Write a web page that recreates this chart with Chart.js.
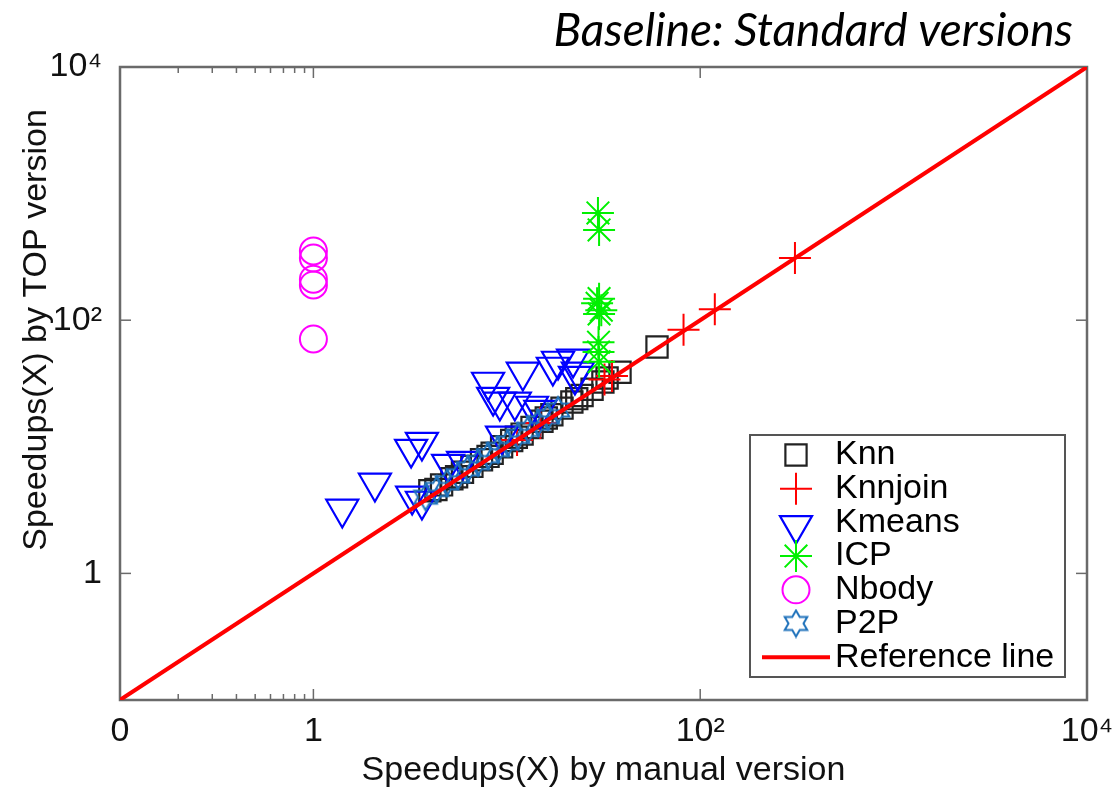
<!DOCTYPE html>
<html>
<head>
<meta charset="utf-8">
<script src="https://cdn.jsdelivr.net/npm/chart.js@4/dist/chart.umd.min.js"></script>
<style>
  html, body { margin: 0; padding: 0; background: #fff; }
  #wrap { width: 1112px; height: 791px; position: relative; }
</style>
</head>
<body>
<div id="wrap"><canvas id="chart"></canvas></div>
<script>
// =====================
// Data
// =====================
const knnX = [4.0, 4.3, 4.6, 5.2, 5.5, 5.9, 6.6, 7.4, 8.0, 8.4, 9.4, 10.6, 11.2, 12.0, 13.5, 15.2, 16.0, 17.1, 19.3, 21.7, 23.0, 24.5, 27.6, 31.4, 33.0, 38.5, 59.8];
const knnY = [4.5, 4.6, 5.0, 5.6, 5.8, 6.3, 7.0, 7.9, 8.4, 8.9, 10.0, 11.2, 11.9, 12.6, 14.2, 15.9, 16.9, 17.9, 20.2, 22.6, 24.0, 25.4, 28.5, 32.5, 35.0, 38.8, 61.4];

const knnjoinX = [11.3, 14.9, 32, 35, 82, 119, 309];
const knnjoinY = [11.3, 15.4, 34, 36.2, 84, 122, 310];

const kmeansX = [1.41, 2.08, 3.24, 3.64, 3.20, 3.64, 4.97, 5.94, 8.0, 12.1, 17.3, 18.4, 22.0, 22.5, 8.5, 9.2, 11.0, 13.5, 9.45, 23.3, 14.9];
const kmeansY = [3.23, 5.18, 4.09, 3.73, 9.6, 10.9, 7.3, 7.7, 32.5, 39, 42.7, 47.6, 49.4, 36.2, 24.7, 22.6, 22.6, 21, 12.2, 39, 19.5];

const icpX = [29.6, 30.0, 30.0, 29.3, 30.8, 30.0, 29.8, 29.8, 30.0];
const icpY = [703, 516, 148, 136, 120, 112, 67, 56, 47];

const nbodyX = [1, 1, 1, 1, 1];
const nbodyY = [352, 310, 211, 190, 71];

const p2pX = [3.8, 4.35, 4.9, 5.6, 6.3, 7.1, 8.0, 9.0, 10.1, 11.4, 12.9, 14.5, 16.3, 18.4];
const p2pY = [4.0, 4.6, 5.2, 5.9, 6.7, 7.5, 8.5, 9.5, 10.7, 12.1, 13.7, 15.4, 17.3, 19.5];

const refX = [0.1, 10000];
const refY = [0.1, 10000];

const xTickValues = [0.1, 1, 100, 10000];
const xTickLabels = ['0', '1', '10²', '10⁴'];
const xMinorTicks = [0.2, 0.3, 0.4, 0.5, 0.6, 0.7, 0.8, 0.9];
const yTickValues = [0.1, 1, 100, 10000];
const yTickLabels = ['', '1', '10²', '10⁴'];

const titleText = 'Baseline: Standard versions';
const yTitleText = 'Speedups(X) by TOP version';
const FONT = "'Liberation Sans', Arial, Helvetica, sans-serif";

function pts(xs, ys){ return xs.map((x, i) => ({x: x, y: ys[i]})); }

// six-pointed star outline (MATLAB 'hexagram')
function makeHexagram(r, color, lw){
  const s = Math.ceil(2 * r + lw + 2);
  const c = document.createElement('canvas');
  c.width = s; c.height = s;
  const g = c.getContext('2d');
  g.strokeStyle = color; g.lineWidth = lw; g.lineJoin = 'miter';
  g.beginPath();
  for (let i = 0; i < 12; i++) {
    const a = -Math.PI / 2 + i * Math.PI / 6;
    const rr = i % 2 === 0 ? r : r / Math.sqrt(3);
    g.lineTo(s / 2 + rr * Math.cos(a), s / 2 + rr * Math.sin(a));
  }
  g.closePath(); g.stroke();
  return c;
}

function scatterSet(label, xs, ys, style, color, radius, width, order, rotation){
  return {
    label: label, data: pts(xs, ys), showLine: false, order: order,
    pointStyle: style, pointRadius: radius, pointHoverRadius: radius,
    pointBorderColor: color, pointBackgroundColor: 'rgba(0,0,0,0)',
    pointBorderWidth: width, pointRotation: rotation || 0
  };
}

const datasets = [
  scatterSet('Knn', knnX, knnY, 'rect', '#222222', 15, 2.2, 6),
  scatterSet('Knnjoin', knnjoinX, knnjoinY, 'cross', '#ff0000', 16, 2, 5),
  scatterSet('Kmeans', kmeansX, kmeansY, 'triangle', '#0000ff', 18.5, 2.2, 4, 180),
  scatterSet('ICP', icpX, icpY, 'star', '#00f000', 16, 2, 3),
  scatterSet('Nbody', nbodyX, nbodyY, 'circle', '#ff00ff', 13.5, 2, 2),
  scatterSet('P2P', p2pX, p2pY, makeHexagram(13, '#1f72bb', 2), '#1f72bb', 13, 2, 1),
  {
    type: 'line', label: 'Reference line', data: pts(refX, refY), order: 0,
    borderColor: '#ff0000', borderWidth: 4, pointRadius: 0, showLine: true, fill: false
  }
];

// =====================
// Plugins: frame + inward ticks, boxed legend, titles
// =====================
const framePlugin = {
  id: 'frame',
  beforeDatasetsDraw(chart){
    const {ctx, chartArea: a, scales: {x, y}} = chart;
    ctx.save();
    ctx.strokeStyle = '#6a6a6a';
    ctx.lineWidth = 1.5;
    const seg = (x1, y1, x2, y2) => { ctx.beginPath(); ctx.moveTo(x1, y1); ctx.lineTo(x2, y2); ctx.stroke(); };
    xTickValues.forEach(v => {
      const px = x.getPixelForValue(v);
      seg(px, a.bottom, px, a.bottom - 11); seg(px, a.top, px, a.top + 11);
    });
    xMinorTicks.forEach(v => {
      const px = x.getPixelForValue(v);
      seg(px, a.bottom, px, a.bottom - 6); seg(px, a.top, px, a.top + 6);
    });
    yTickValues.forEach(v => {
      const py = y.getPixelForValue(v);
      seg(a.left, py, a.left + 11, py); seg(a.right, py, a.right - 11, py);
    });
    ctx.lineWidth = 2.5;
    ctx.strokeRect(a.left, a.top, a.right - a.left, a.bottom - a.top);
    ctx.restore();
  }
};

const legendPlugin = {
  id: 'boxLegend',
  afterDraw(chart){
    const {ctx, chartArea: a} = chart;
    const bw = 315, bh = 242;
    const bx = a.right - 22 - bw, by = a.bottom - 23 - bh;
    ctx.save();
    ctx.fillStyle = '#fff';
    ctx.fillRect(bx, by, bw, bh);
    ctx.strokeStyle = '#555';
    ctx.lineWidth = 2;
    ctx.strokeRect(bx, by, bw, bh);
    const rowH = 33.7;
    chart.data.datasets.forEach((ds, i) => {
      const cy = by + 20 + i * rowH;
      const mx = bx + 46;
      if (ds.type === 'line') {
        ctx.strokeStyle = ds.borderColor; ctx.lineWidth = ds.borderWidth;
        ctx.beginPath(); ctx.moveTo(bx + 12, cy); ctx.lineTo(bx + 80, cy); ctx.stroke();
      } else {
        ctx.fillStyle = 'rgba(0,0,0,0)';
        ctx.strokeStyle = ds.pointBorderColor;
        ctx.lineWidth = ds.pointBorderWidth;
        Chart.helpers.drawPoint(ctx, {
          pointStyle: ds.pointStyle, rotation: ds.pointRotation,
          radius: ds.pointRadius, borderWidth: ds.pointBorderWidth
        }, mx, cy + (ds.pointRotation ? 3 : 0));
      }
      ctx.fillStyle = '#000';
      ctx.font = '34px ' + FONT;
      ctx.textAlign = 'left';
      ctx.textBaseline = 'middle';
      ctx.fillText(ds.label, bx + 85, cy);
    });
    ctx.restore();
  }
};

const titlePlugin = {
  id: 'titles',
  afterDraw(chart){
    const {ctx, chartArea: a} = chart;
    ctx.save();
    ctx.font = "italic 46px Lato, 'Open Sans', sans-serif";
    ctx.fillStyle = '#000';
    ctx.textAlign = 'right';
    ctx.textBaseline = 'alphabetic';
    ctx.fillText(titleText, a.right - 14, a.top - 21);
    // y axis title, sits a little above the axis centre as in the original
    ctx.translate(37, a.top + 263);
    ctx.rotate(-Math.PI / 2);
    ctx.font = '34px ' + FONT;
    ctx.fillStyle = '#111';
    ctx.textAlign = 'center';
    ctx.textBaseline = 'middle';
    ctx.fillText(yTitleText, 0, 0);
    ctx.restore();
  }
};

// =====================
// Chart
// =====================
const ctx = document.getElementById('chart').getContext('2d');
new Chart(ctx, {
  type: 'scatter',
  data: { datasets: datasets },
  options: {
    responsive: true,
    maintainAspectRatio: false,
    animation: false,
    layout: { padding: { top: 67, right: 25, left: 0, bottom: 0 } },
    plugins: { legend: { display: false }, tooltip: { enabled: false }, title: { display: false } },
    scales: {
      x: {
        type: 'logarithmic', position: 'bottom', min: 0.1, max: 10000,
        afterBuildTicks: s => { s.ticks = xTickValues.map(v => ({value: v})); },
        afterFit: s => { s.height = 91; s.paddingLeft = 0; s.paddingRight = 0; },
        grid: { display: false }, border: { display: false },
        ticks: {
          autoSkip: false, maxRotation: 0, padding: 3, color: '#111',
          font: { family: FONT, size: 34 },
          callback: (v, i) => xTickLabels[i]
        },
        title: {
          display: true, text: 'Speedups(X) by manual version', color: '#111',
          font: { family: FONT, size: 34 }, padding: { top: 0, bottom: 0 }
        }
      },
      y: {
        type: 'logarithmic', position: 'left', min: 0.1, max: 10000,
        afterBuildTicks: s => { s.ticks = yTickValues.map(v => ({value: v})); },
        afterFit: s => { s.width = 120; s.paddingTop = 0; s.paddingBottom = 0; },
        grid: { display: false }, border: { display: false },
        ticks: {
          autoSkip: false, padding: 10, color: '#111',
          font: { family: FONT, size: 34 },
          callback: (v, i) => yTickLabels[i]
        },
        title: { display: false }
      }
    }
  },
  plugins: [framePlugin, legendPlugin, titlePlugin]
});
</script>
</body>
</html>
